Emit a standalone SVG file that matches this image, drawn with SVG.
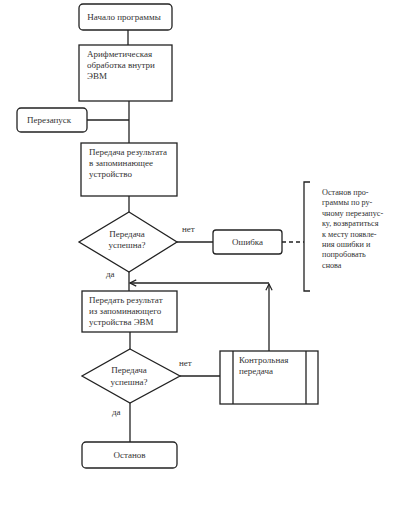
<svg xmlns="http://www.w3.org/2000/svg" width="413" height="512" viewBox="0 0 413 512">
<style>
.b{fill:#fff;stroke:#222;stroke-width:1.3}
.l{fill:none;stroke:#222;stroke-width:1.3}
.d{fill:none;stroke:#222;stroke-width:1.3;stroke-dasharray:4,3}
text{font-family:"Liberation Serif","Times New Roman",serif;font-size:9px;fill:#333}
.n{font-size:8.2px}
</style>
<defs>
<marker id="a" viewBox="0 0 10 10" refX="9" refY="5" markerWidth="6" markerHeight="6" orient="auto"><path d="M1,1 L9,5 L1,9" fill="none" stroke="#222" stroke-width="1.5"/></marker>
</defs>
<rect width="413" height="512" fill="#fff"/>
<g id="connectors">
<path class="l" d="M128,30 V45"/>
<path class="l" d="M129,101 V143"/>
<path class="l" d="M87,120 H129"/>
<path class="l" d="M129,196 V212"/>
<path class="l" d="M177,242 H213"/>
<path class="d" d="M282,242 H304"/>
<path class="l" d="M129,272 V291"/>
<path class="l" d="M269,351 V284" marker-end="url(#a)"/>
<path class="l" d="M269,283 H130" marker-end="url(#a)"/>
<path class="l" d="M130,332 V349"/>
<path class="l" d="M180,376 H220"/>
<path class="l" d="M130,403 V442"/>
</g>
<g id="start"><rect class="b" x="79" y="4" width="93" height="26" rx="4"/><text x="124" y="20" text-anchor="middle">Начало программы</text></g>
<g id="arith"><rect class="b" x="79" y="45" width="93" height="56"/><text x="87" y="57">Арифметическая</text><text x="87" y="68">обработка внутри</text><text x="87" y="79">ЭВМ</text></g>
<g id="restart"><rect class="b" x="17" y="108" width="70" height="24" rx="4"/><text x="27" y="123">Перезапуск</text></g>
<g id="transfer"><rect class="b" x="81" y="143" width="96" height="53"/><text x="89" y="155">Передача результата</text><text x="89" y="166">в запоминающее</text><text x="89" y="177">устройство</text></g>
<g id="check1"><polygon class="b" points="129,212 177,242 129,272 79,242"/><text x="127" y="237" text-anchor="middle">Передача</text><text x="127" y="248" text-anchor="middle">успешна?</text><text x="182" y="232">нет</text><text x="106" y="277">да</text></g>
<g id="error"><rect class="b" x="213" y="230" width="69" height="24" rx="3"/><text x="247.5" y="245" text-anchor="middle">Ошибка</text></g>
<g id="note"><path class="l" d="M310,182 H304 V291 H310"/><text class="n" x="322" y="195">Останов про-</text><text class="n" x="322" y="205.4">граммы по ру-</text><text class="n" x="322" y="215.8">чному перезапус-</text><text class="n" x="322" y="226.2">ку, возвратиться</text><text class="n" x="322" y="236.6">к месту появле-</text><text class="n" x="322" y="247">ния ошибки и</text><text class="n" x="322" y="257.4">попробовать</text><text class="n" x="322" y="267.8">снова</text></g>
<g id="fetch"><rect class="b" x="82" y="291" width="95" height="41"/><text x="89" y="303">Передать результат</text><text x="89" y="314">из запоминающего</text><text x="89" y="325">устройства ЭВМ</text></g>
<g id="check2"><polygon class="b" points="130,349 180,376 130,403 82,376"/><text x="129" y="373" text-anchor="middle">Передача</text><text x="129" y="385" text-anchor="middle">успешна?</text><text x="179" y="366">нет</text><text x="112" y="415">да</text></g>
<g id="control"><rect class="b" x="220" y="351" width="98" height="53"/><path class="l" d="M233,351 V404 M306,351 V404"/><text x="239" y="363">Контрольная</text><text x="239" y="374">передача</text></g>
<g id="stop"><rect class="b" x="82" y="442" width="95" height="26" rx="4"/><text x="129.5" y="458" text-anchor="middle">Останов</text></g>
</svg>
